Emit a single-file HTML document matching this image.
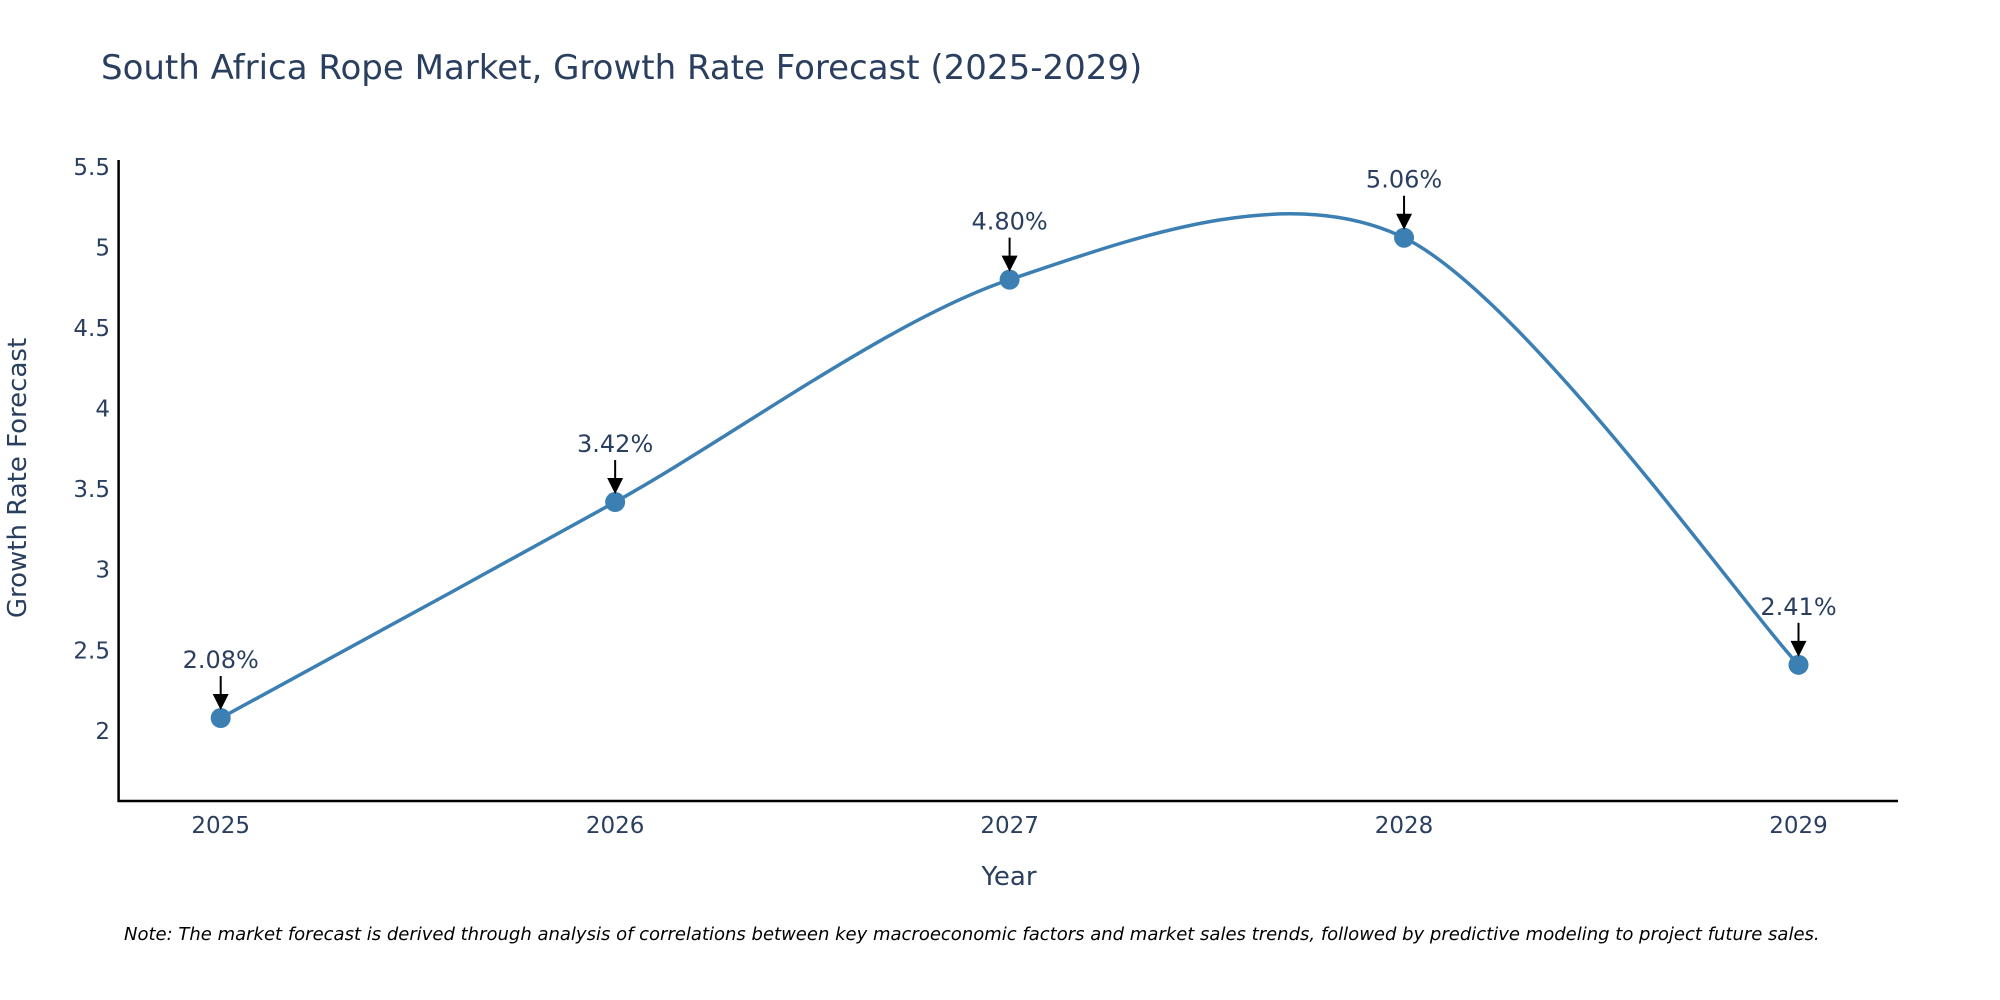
<!DOCTYPE html>
<html><head><meta charset="utf-8"><style>
body{margin:0;background:#fff;}
svg{display:block;font-family:"DejaVu Sans","Liberation Sans",sans-serif;}
</style></head><body>
<svg id="chart" width="2000" height="1000" viewBox="0 0 2000 1000">
<text x="101" y="79" font-size="34" fill="#2a3f5f">South Africa Rope Market, Growth Rate Forecast (2025-2029)</text>
<g id="yticks"></g>
<g id="xticks"></g>
<line x1="118.6" y1="160" x2="118.6" y2="802" stroke="#000" stroke-width="2.5"/>
<line x1="117.5" y1="801" x2="1898" y2="801" stroke="#000" stroke-width="2.5"/>
<path id="line" fill="none" stroke="#3b7fb3" stroke-width="3.5"/>
<g id="points"></g>
<g id="annots"></g>
<text x="26" y="478" font-size="26" fill="#2a3f5f" text-anchor="middle" transform="rotate(-90 26 478)">Growth Rate Forecast</text>
<text x="1009" y="885" font-size="26" fill="#2a3f5f" text-anchor="middle">Year</text>
<text x="124" y="940" font-size="18" font-style="italic" fill="#000">Note: The market forecast is derived through analysis of correlations between key macroeconomic factors and market sales trends, followed by predictive modeling to project future sales.</text>
</svg>
<script>
const years = ["2025","2026","2027","2028","2029"];
const values = [2.08, 3.42, 4.80, 5.06, 2.41];
const labels = ["2.08%","3.42%","4.80%","5.06%","2.41%"];
const yTicks = [2, 2.5, 3, 3.5, 4, 4.5, 5, 5.5];
const yTickLabels = ["2","2.5","3","3.5","4","4.5","5","5.5"];

const NS="http://www.w3.org/2000/svg";
function xs(i){return 220.7 + i*(1798.5-220.7)/(years.length-1);}
function ys(v){return 730.9 - (v-2)*(730.9-247.4)/3;}
function mk(tag,attrs,parent,txt){const e=document.createElementNS(NS,tag);for(const k in attrs)e.setAttribute(k,attrs[k]);if(txt!==undefined)e.textContent=txt;parent.appendChild(e);return e;}

const yg=document.getElementById('yticks');
yTicks.forEach((t,i)=>{
  const e=mk('text',{x:110,y:ys(t)+8,'font-size':23,fill:'#2a3f5f','text-anchor':'end'},yg,yTickLabels[i]);
  
  
});
const xg=document.getElementById('xticks');
years.forEach((y,i)=>{
  const e=mk('text',{x:xs(i),y:833,'font-size':23,fill:'#2a3f5f','text-anchor':'middle'},xg,y);
  
  
});

const P=values.map((v,i)=>[xs(i),ys(v)]);
let d=`M${P[0][0]},${P[0][1]}`;
const s=0.15;
for(let i=0;i<P.length-1;i++){
  const p0=P[i-1]||P[i],p1=P[i],p2=P[i+1],p3=P[i+2]||P[i+1];
  const c1=[p1[0]+(p2[0]-p0[0])*s,p1[1]+(p2[1]-p0[1])*s];
  const c2=[p2[0]-(p3[0]-p1[0])*s,p2[1]-(p3[1]-p1[1])*s];
  d+=` C${c1[0]},${c1[1]} ${c2[0]},${c2[1]} ${p2[0]},${p2[1]}`;
}
document.getElementById('line').setAttribute('d',d);

const pg=document.getElementById('points'),ag=document.getElementById('annots');
values.forEach((v,i)=>{
  const x=xs(i),y=ys(v);
  const c=mk('circle',{cx:x,cy:y,r:10,fill:'#3b7fb3'},pg);
  
  
  const l=mk('line',{x1:x,y1:y-42,x2:x,y2:y-20,stroke:'#000','stroke-width':2},ag);
  
  
  const h=mk('polygon',{points:`${x-8},${y-24} ${x+8},${y-24} ${x},${y-8}`,fill:'#000'},ag);
  
  
  const t=mk('text',{x:x,y:y-50,'font-size':24,fill:'#2a3f5f','text-anchor':'middle'},ag,labels[i]);
  
  
});
</script>
</body></html>
